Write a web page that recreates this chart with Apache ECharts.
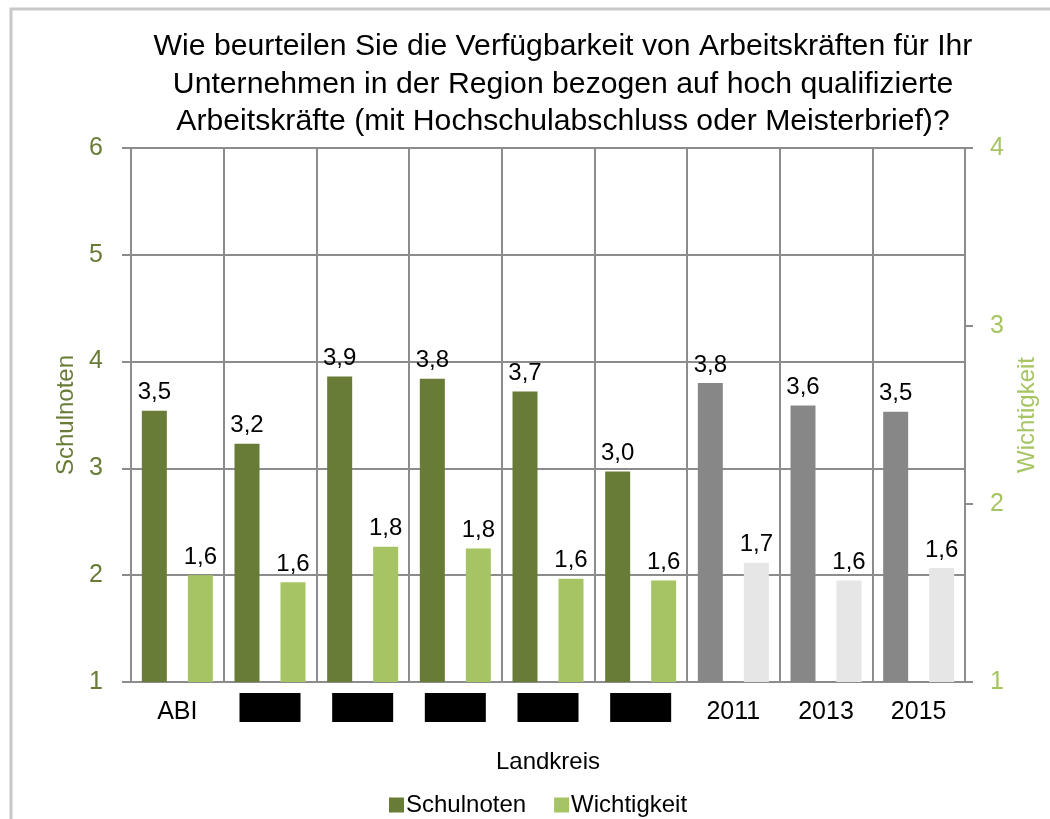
<!DOCTYPE html>
<html>
<head>
<meta charset="utf-8">
<script src="https://cdn.jsdelivr.net/npm/echarts@6/dist/echarts.min.js"></script>
<style>
html,body{margin:0;padding:0;background:#fff;}
#c{width:1050px;height:819px;}
</style>
</head>
<body>
<div id="c"></div>
<script>
const categories = ['ABI', 'Landkreis 1', 'Landkreis 2', 'Landkreis 3', 'Landkreis 4', 'Landkreis 5', '2011', '2013', '2015'];
const redacted = [false, true, true, true, true, true, false, false, false];
const schulnoten = [3.54, 3.23, 3.86, 3.84, 3.72, 2.97, 3.80, 3.59, 3.53];
const wichtigkeit = [1.60, 1.56, 1.76, 1.75, 1.58, 1.57, 1.67, 1.57, 1.64];
const isYear = [false, false, false, false, false, false, true, true, true];
const leftTicks = [1, 6];
const rightTicks = [1, 4];

const C_DARK = '#687c37';
const C_LIGHT = '#a6c463';
const C_GRAY = '#878787';
const C_LGRAY = '#e6e6e6';
const FONT = '"Liberation Sans", Arial, sans-serif';
const FS = 24;

const fmt = v => v.toFixed(1).replace('.', ',');

const chart = echarts.init(document.getElementById('c'), null, {renderer: 'canvas'});
chart.setOption({
  animation: false,
  backgroundColor: '#fff',
  textStyle: {fontFamily: FONT},
  title: {
    text: 'Wie beurteilen Sie die Verfügbarkeit von Arbeitskräften für Ihr\nUnternehmen in der Region bezogen auf hoch qualifizierte\nArbeitskräfte (mit Hochschulabschluss oder Meisterbrief)?',
    left: 558, top: 23, textAlign: 'center',
    textStyle: {fontFamily: FONT, fontSize: 30.2, fontWeight: 'normal', color: '#000', lineHeight: 37.5}
  },
  graphic: [{
    type: 'polyline', silent: true,
    shape: {points: [[11, 830], [11, 9], [1060, 9]]},
    style: {stroke: '#c8c8c8', lineWidth: 3, fill: null}
  }],
  legend: {
    left: 384, top: 788,
    itemWidth: 15, itemHeight: 15, itemGap: 28,
    icon: 'rect',
    textStyle: {fontFamily: FONT, fontSize: FS, color: '#000', padding: [0, 0, 0, -3]},
    data: ['Schulnoten', 'Wichtigkeit']
  },
  grid: {left: 131, right: 85, top: 148, bottom: 137, containLabel: false},
  xAxis: {
    type: 'category', data: categories,
    name: 'Landkreis', nameLocation: 'middle', nameGap: 68,
    nameTextStyle: {fontFamily: FONT, fontSize: FS, color: '#000'},
    axisLine: {show: true, lineStyle: {color: '#8c8c8c', width: 2}},
    axisTick: {show: false},
    splitLine: {show: true, lineStyle: {color: '#8c8c8c', width: 2}},
    axisLabel: {
      interval: 0, margin: 11, fontFamily: FONT, fontSize: 25, color: '#000',
      formatter: (v, i) => redacted[i] ? '{r|}' : '{t|' + v + '}',
      rich: {
        r: {backgroundColor: '#000', width: 61, height: 29},
        t: {fontFamily: FONT, fontSize: 25, color: '#000', padding: [7, 0, 0, 0]}
      }
    }
  },
  yAxis: [{
    type: 'value', min: leftTicks[0], max: leftTicks[1], interval: 1,
    name: 'Schulnoten', nameLocation: 'middle', nameGap: 52, nameRotate: 90,
    nameTextStyle: {fontFamily: FONT, fontSize: FS, color: C_DARK},
    axisLine: {show: true, lineStyle: {color: '#8c8c8c', width: 2}},
    axisTick: {show: true, length: 9, lineStyle: {color: '#8c8c8c', width: 2}},
    splitLine: {show: true, lineStyle: {color: '#8c8c8c', width: 2}},
    axisLabel: {margin: 28, fontFamily: FONT, fontSize: 25, color: C_DARK}
  }, {
    type: 'value', min: rightTicks[0], max: rightTicks[1], interval: 1, position: 'right',
    name: 'Wichtigkeit', nameLocation: 'middle', nameGap: 50, nameRotate: 90,
    nameTextStyle: {fontFamily: FONT, fontSize: FS, color: C_LIGHT},
    axisLine: {show: true, lineStyle: {color: '#8c8c8c', width: 2}},
    axisTick: {show: true, length: 8, lineStyle: {color: '#8c8c8c', width: 2}},
    splitLine: {show: false},
    axisLabel: {margin: 25, fontFamily: FONT, fontSize: 25, color: C_LIGHT}
  }],
  series: [{
    name: 'Schulnoten', type: 'bar', yAxisIndex: 0,
    barWidth: 25, barGap: '84%',
    itemStyle: {color: C_DARK},
    data: schulnoten.map((v, i) => ({value: v, itemStyle: {color: isYear[i] ? C_GRAY : C_DARK}})),
    label: {show: true, position: 'top', distance: 6, fontFamily: FONT, fontSize: FS, color: '#000', formatter: p => fmt(p.value)}
  }, {
    name: 'Wichtigkeit', type: 'bar', yAxisIndex: 1,
    barWidth: 25, barGap: '84%',
    itemStyle: {color: C_LIGHT},
    data: wichtigkeit.map((v, i) => ({value: v, itemStyle: {color: isYear[i] ? C_LGRAY : C_LIGHT}})),
    label: {show: true, position: 'top', distance: 6, fontFamily: FONT, fontSize: FS, color: '#000', formatter: p => fmt(p.value)}
  }]
});
</script>
</body>
</html>
